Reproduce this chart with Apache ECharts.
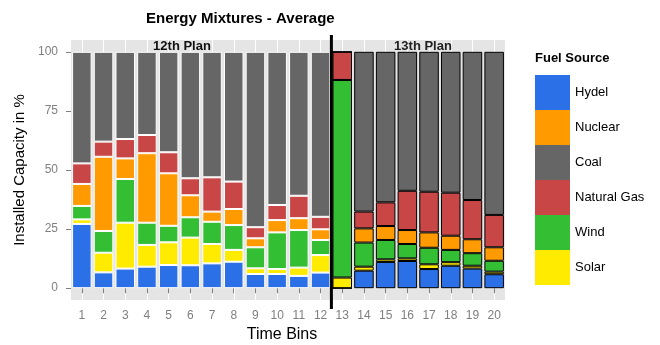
<!DOCTYPE html>
<html>
<head>
<meta charset="utf-8">
<script src="https://cdn.jsdelivr.net/npm/echarts@6/dist/echarts.min.js"></script>
<style>html,body{margin:0;padding:0;background:#fff}#c{width:660px;height:345px}</style>
</head>
<body>
<div id="c"></div>
<script>
const bins = ['1','2','3','4','5','6','7','8','9','10','11','12','13','14','15','16','17','18','19','20'];
const hydel   = [27.2, 6.7, 8.3, 9.1, 9.8, 9.7, 10.5, 11.2, 6.0, 6.0, 5.2, 6.6, 0.0, 7.4, 11.1, 11.5, 8.1, 9.5, 8.3, 5.9];
const solar   = [1.9, 8.3, 19.4, 9.2, 9.6, 11.7, 8.2, 5.0, 2.4, 2.1, 3.5, 7.4, 4.5, 1.7, 1.1, 1.1, 2.0, 1.5, 1.2, 1.1];
const wind    = [5.7, 9.2, 18.5, 9.4, 7.0, 8.6, 9.4, 10.5, 8.9, 15.5, 15.9, 6.4, 83.6, 10.2, 8.2, 6.1, 7.0, 5.2, 5.3, 4.6];
const nuclear = [9.3, 31.4, 8.7, 29.4, 22.2, 9.3, 4.3, 6.8, 3.8, 5.2, 5.0, 4.5, 0.0, 6.0, 5.9, 5.9, 6.5, 6.0, 5.9, 5.7];
const gas     = [8.7, 6.4, 8.2, 7.7, 8.9, 7.2, 14.5, 11.6, 4.7, 6.4, 9.5, 5.3, 11.9, 7.1, 10.0, 16.6, 17.2, 18.2, 16.6, 13.7];
const coal    = [47.2, 38.0, 36.9, 35.2, 42.5, 53.5, 53.1, 54.9, 74.2, 64.8, 60.9, 69.8, 0.0, 67.6, 63.7, 58.8, 59.2, 59.6, 62.7, 69.0];
const yTicks  = [0, 25, 50, 75, 100];
const legendOrder = ['Hydel', 'Nuclear', 'Coal', 'Natural Gas', 'Wind', 'Solar'];

const colors = {
  'Hydel': '#2B70E6', 'Solar': '#FFEB00', 'Wind': '#34BE34',
  'Nuclear': '#FF9A00', 'Natural Gas': '#C84646', 'Coal': '#666666'
};
const stackOrder = [['Hydel', hydel], ['Solar', solar], ['Wind', wind], ['Nuclear', nuclear], ['Natural Gas', gas], ['Coal', coal]];

const chart = echarts.init(document.getElementById('c'), null, {renderer: 'canvas'});
const halfSteps = Array.from({length: 41}, () => '');
const FONT = 'Liberation Sans, Arial, sans-serif';

const series = stackOrder.map(([name, vals]) => ({
  name: name,
  type: 'bar',
  stack: 'mix',
  barCategoryGap: '10%',
  xAxisIndex: 0,
  itemStyle: {color: colors[name]},
  emphasis: {disabled: true},
  data: vals.map((v, i) => ({
    value: v,
    itemStyle: {borderColor: i < 12 ? '#FFFFFF' : '#000000', borderWidth: 1}
  }))
}));

chart.setOption({
  animation: false,
  textStyle: {fontFamily: FONT},
  title: {
    text: 'Energy Mixtures - Average',
    left: 141, top: 6,
    textStyle: {fontSize: 15, fontWeight: 'bold', color: '#000'}
  },
  grid: {left: 71, right: 155, top: 40, bottom: 45, show: true, backgroundColor: '#E5E5E5', borderWidth: 0, containLabel: false, outerBoundsMode: 'none'},
  legend: {
    data: legendOrder,
    orient: 'vertical',
    left: 535, top: 75,
    itemWidth: 35, itemHeight: 35, itemGap: 0,
    icon: 'rect',
    padding: 0,
    textStyle: {fontSize: 13, color: '#000'},
    selectedMode: false
  },
  xAxis: [{
    type: 'category',
    data: bins,
    name: 'Time Bins',
    nameLocation: 'middle',
    nameGap: 27,
    nameTextStyle: {fontSize: 16, color: '#000', padding: [0, 12, 0, 0]},
    axisLine: {show: false},
    axisTick: {show: true, alignWithLabel: true, length: 5, lineStyle: {color: '#7F7F7F'}},
    axisLabel: {color: '#7F7F7F', fontSize: 12, margin: 10},
    splitLine: {show: false}
  }, {
    type: 'category',
    data: halfSteps,
    boundaryGap: false,
    position: 'top',
    axisLine: {show: false},
    axisTick: {show: false},
    axisLabel: {show: false},
    splitLine: {show: true, interval: (idx) => idx % 2 === 1, lineStyle: {color: '#FFFFFF', width: 1}}
  }],
  yAxis: {
    type: 'value',
    min: -5, max: 105,
    name: 'Installed Capacity in %',
    nameLocation: 'middle',
    nameGap: 37,
    nameTextStyle: {fontSize: 15, color: '#000'},
    axisLine: {show: false},
    axisTick: {show: true, length: 5, customValues: yTicks, lineStyle: {color: '#7F7F7F'}},
    axisLabel: {color: '#7F7F7F', fontSize: 12, margin: 13, customValues: yTicks},
    splitLine: {show: false}
  },
  series: series
});

const x12 = chart.convertToPixel({xAxisIndex: 0}, '12');
const x13 = chart.convertToPixel({xAxisIndex: 0}, '13');
const xb = (x12 + x13) / 2;

chart.setOption({
  graphic: [
    {type: 'line', z: 100, shape: {x1: xb, y1: 35, x2: xb, y2: 309}, style: {stroke: '#000', lineWidth: 3}},
    {type: 'text', z: 100, x: 182, y: 46, style: {text: '12th Plan', fontSize: 13, fontWeight: 'bold', fill: '#111', align: 'center', verticalAlign: 'middle', fontFamily: FONT}},
    {type: 'text', z: 100, x: 423, y: 46, style: {text: '13th Plan', fontSize: 13, fontWeight: 'bold', fill: '#222', align: 'center', verticalAlign: 'middle', fontFamily: FONT}},
    {type: 'text', z: 100, x: 535, y: 58, style: {text: 'Fuel Source', fontSize: 13, fontWeight: 'bold', fill: '#000', align: 'left', verticalAlign: 'middle', fontFamily: FONT}}
  ]
});
</script>
</body>
</html>
